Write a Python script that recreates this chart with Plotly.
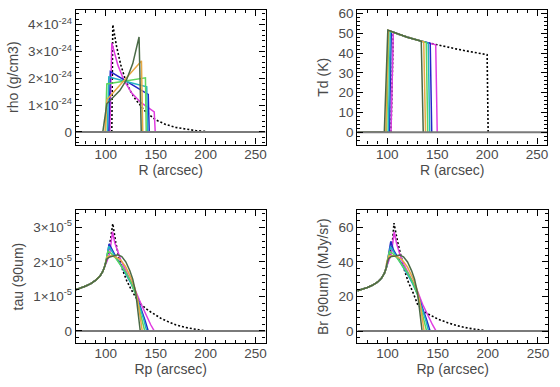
import plotly.graph_objects as go

# ---------------- data ----------------
SERIES = ["dotted", "magenta", "blue", "cyan", "lgreen", "orange", "olive"]
COLORS = {"dotted": "#000000", "magenta": "#e03ce0", "blue": "#2424c8", "cyan": "#22b4c4",
          "lgreen": "#5cd65c", "orange": "#e6a844", "olive": "#4a6a46"}

# Panel 1: rho (units of 1e-24 g/cm3) vs R
RHO_SCALE = 1e-24
RHO_R = {
    "dotted": [106, 107, 110.7, 115, 120, 125, 130, 140, 150, 160, 170, 180, 190, 200, 201],
    "magenta": [70, 104, 106, 112, 118, 126, 135, 146, 148.5, 149.5],
    "blue": [70, 103, 104.5, 120, 140.7, 142.5, 143.5],
    "cyan": [70, 101.5, 103, 120, 141, 142],
    "lgreen": [70, 99.5, 101, 120, 138, 139.7, 140.5],
    "orange": [70, 99.5, 101, 120, 135.7, 137],
    "olive": [70, 97, 101, 114, 120.7, 127, 133.3, 135.5],
}
RHO_V = {
    "dotted": [0, 4.0, 3.2, 2.5, 1.9, 1.5, 1.2, 0.75, 0.45, 0.28, 0.17, 0.1, 0.05, 0.02, 0],
    "magenta": [0, 0, 3.32, 2.5, 1.94, 1.45, 1.1, 0.82, 0.75, 0],
    "blue": [0, 0, 2.25, 1.91, 1.46, 1.4, 0],
    "cyan": [0, 0, 2.05, 1.88, 1.68, 0],
    "lgreen": [0, 0, 1.79, 1.91, 2.02, 2.02, 0],
    "orange": [0, 0, 1.2, 2.0, 2.65, 0],
    "olive": [0, 0, 1.05, 1.54, 1.94, 2.55, 3.54, 0],
}

# Panel 2: Td (K) vs R
TD_R = {
    "dotted": [103.7, 106, 110, 120, 130, 140, 150, 160, 170, 180, 190, 200, 201],
    "magenta": [70, 103.7, 106, 110, 120, 130, 140, 148.5, 150],
    "blue": [70, 102, 104, 110, 120, 130, 143, 144.5],
    "cyan": [70, 101, 103, 110, 120, 130, 141, 142.5],
    "lgreen": [70, 99.3, 101.5, 110, 120, 130, 139, 140.5],
    "orange": [70, 98.5, 101, 110, 120, 130, 136.5, 138.3],
    "olive": [70, 97, 100.5, 110, 120, 130, 134, 136],
}
TD_V = {
    "dotted": [0, 50.5, 49.7, 48.0, 46.6, 45.3, 44.1, 43.0, 42.0, 41.0, 40.0, 39.2, 0],
    "magenta": [0, 0, 50.5, 49.7, 48.0, 46.6, 45.3, 44.2, 0],
    "blue": [0, 0, 50.9, 49.7, 48.0, 46.6, 44.9, 0],
    "cyan": [0, 0, 51.1, 49.7, 48.0, 46.6, 45.1, 0],
    "lgreen": [0, 0, 51.3, 49.7, 48.0, 46.6, 45.3, 0],
    "orange": [0, 0, 51.5, 49.7, 48.0, 46.6, 45.7, 0],
    "olive": [0, 0, 51.6, 49.7, 48.0, 46.6, 46.0, 0],
}

# Panels 3/4: projected radius Rp, common inner part
LEFT_RP = [70, 75, 80, 85, 90, 94, 97, 99]
TAU_SCALE = 1e-5
TAU_LEFT = [1.19, 1.24, 1.30, 1.37, 1.47, 1.58, 1.72, 1.88]
BR_LEFT = [23.3, 24.2, 25.2, 26.5, 28.3, 30.5, 33.5, 37.0]

TAU_RP = {
    "dotted": [102, 105, 107, 110, 113, 117, 121, 125, 130, 135, 140, 145, 150, 155, 160, 170, 180, 190, 200],
    "magenta": [101, 104, 106.7, 109, 112, 115, 120, 125, 130, 135, 140, 145, 148.5],
    "blue": [101, 103.3, 106, 110, 115, 120, 125, 130, 135, 139, 142.5],
    "cyan": [100.5, 103, 106, 110, 115, 120, 125, 130, 134, 138, 141],
    "lgreen": [100, 102, 105, 110, 115, 120, 125, 130, 133, 136, 138.5, 139],
    "orange": [100, 101.5, 105, 110, 115, 120, 125, 129, 132, 134, 135.5, 136.5],
    "olive": [100, 101, 104, 108, 112, 116, 120, 124, 127, 130, 132, 133.5, 134.5],
}
TAU_V = {
    "dotted": [2.2, 2.7, 3.1, 2.55, 2.15, 1.75, 1.45, 1.22, 0.97, 0.78, 0.65, 0.55, 0.45, 0.37, 0.3, 0.18, 0.1, 0.04, 0.0],
    "magenta": [2.0, 2.25, 2.87, 2.55, 2.28, 2.05, 1.75, 1.47, 1.15, 0.8, 0.47, 0.18, 0.0],
    "blue": [2.1, 2.52, 2.35, 2.15, 1.92, 1.67, 1.4, 1.08, 0.68, 0.33, 0.0],
    "cyan": [2.05, 2.45, 2.3, 2.12, 1.9, 1.66, 1.4, 1.06, 0.7, 0.33, 0.0],
    "lgreen": [2.0, 2.3, 2.25, 2.1, 1.9, 1.7, 1.43, 1.05, 0.7, 0.35, 0.05, 0.0],
    "orange": [2.0, 2.15, 2.17, 2.14, 2.05, 1.85, 1.55, 1.25, 0.9, 0.5, 0.15, 0.0],
    "olive": [1.98, 2.08, 2.14, 2.16, 2.2, 2.15, 2.0, 1.75, 1.5, 1.1, 0.6, 0.2, 0.0],
}

BR_RP = {
    "dotted": [102, 105, 106.5, 110, 113, 117, 121, 125, 130, 135, 140, 145, 150, 160, 170, 180, 190, 200],
    "magenta": [101, 104, 106.7, 109, 112, 115, 120, 125, 130, 135, 140, 145, 148.5],
    "blue": [100, 103.3, 106, 110, 115, 120, 125, 130, 135, 139, 142.5],
    "cyan": [100, 103, 106, 110, 115, 120, 125, 130, 134, 138, 141],
    "lgreen": [99.5, 102, 105, 110, 115, 120, 125, 130, 133, 136, 138.5, 139],
    "orange": [99, 101.5, 105, 110, 115, 120, 125, 129, 132, 134, 135.5, 136.5],
    "olive": [99, 101, 104, 108, 112, 116, 120, 124, 127, 130, 132, 133.5, 134.5],
}
BR_V = {
    "dotted": [43, 52, 62.5, 52, 44, 35, 28, 23, 15.5, 12, 10, 8.6, 7.0, 4.8, 3.0, 1.7, 0.7, 0.0],
    "magenta": [40, 45, 57.5, 51, 45, 40, 34.5, 29, 23, 15.5, 9, 3.5, 0],
    "blue": [40, 52, 47, 43, 38, 33, 28, 21.5, 13.5, 6.5, 0],
    "cyan": [40, 49, 46, 42, 37.5, 33, 27.5, 21, 14, 6.5, 0],
    "lgreen": [40, 46, 45, 42, 38, 34, 28.5, 21, 14, 7, 1, 0],
    "orange": [39, 43.5, 43.6, 43, 41, 37, 31, 25, 18, 10, 3, 0],
    "olive": [38, 42, 43.2, 43.5, 44, 43, 40, 35, 30, 22, 12, 4, 0],
}

ZERO_X = [70, 260]
ZERO_Y = [0, 0]

X_TICKS = [100, 150, 200, 250]
RHO_TICKS = [0, 1, 2, 3, 4]
RHO_TICKTEXT = ["0"] + [f"{v}×10<sup>-24</sup>" for v in RHO_TICKS[1:]]
TD_TICKS = [0, 10, 20, 30, 40, 50, 60]
TAU_TICKS = [0, 1, 2, 3]
TAU_TICKTEXT = ["0"] + [f"{v}×10<sup>-5</sup>" for v in TAU_TICKS[1:]]
BR_TICKS = [0, 20, 40, 60]

# ---------------- figure ----------------
fig = go.Figure()
W, H = 560, 387
TEXT = "#4a4a4a"


def line_style(name):
    if name == "dotted":
        return dict(color="#000000", width=1.6, dash="2px,2px")
    return dict(color=COLORS[name], width=1.5)


def add(xs, ys, name, ax):
    fig.add_trace(go.Scatter(x=xs, y=ys, mode="lines", line=line_style(name),
                             xaxis="x" + ax, yaxis="y" + ax, showlegend=False, hoverinfo="skip"))


def add_zero(ax):
    fig.add_trace(go.Scatter(x=ZERO_X, y=ZERO_Y, mode="lines", line=dict(color="#7a7a7a", width=2),
                             xaxis="x" + ax, yaxis="y" + ax, showlegend=False, hoverinfo="skip"))


for s in SERIES:
    add(RHO_R[s], RHO_V[s], s, "")
add_zero("")
for s in SERIES:
    add(TD_R[s], TD_V[s], s, "2")
add_zero("2")
for s in SERIES:
    add(LEFT_RP + TAU_RP[s], TAU_LEFT + TAU_V[s], s, "3")
add_zero("3")
for s in SERIES:
    add(LEFT_RP + BR_RP[s], BR_LEFT + BR_V[s], s, "4")
add_zero("4")


# pixel-based domains
def xd(a, b):
    return [a / W, b / W]


def yd(top, bottom):
    return [1 - bottom / H, 1 - top / H]


font = dict(family="Liberation Sans, Arial, sans-serif", size=14, color=TEXT)
tfont = dict(family="Liberation Sans, Arial, sans-serif", size=13.5, color=TEXT)


def xaxis(dom, anchor, title):
    return dict(domain=dom, anchor=anchor, range=[70, 260], tickmode="array", tickvals=X_TICKS,
                ticks="inside", ticklen=6, tickcolor="#000", mirror="allticks", showline=True,
                linecolor="#000", linewidth=1.2, showgrid=False, zeroline=False,
                ticklabelstandoff=-3,
                minor=dict(dtick=10, tick0=70, ticks="inside", ticklen=3, tickcolor="#000", showgrid=False),
                title=dict(text=title, font=font, standoff=2), tickfont=tfont)


def yaxis(dom, anchor, title, rng, tv, tt=None, mdt=1):
    d = dict(domain=dom, anchor=anchor, range=rng, tickmode="array", tickvals=tv,
             ticks="inside", ticklen=6, tickcolor="#000", mirror="allticks", showline=True,
             linecolor="#000", linewidth=1.2, showgrid=False, zeroline=False,
             minor=dict(dtick=mdt, tick0=0, ticks="inside", ticklen=3, tickcolor="#000", showgrid=False),
             title=dict(text=title, font=font, standoff=6), tickfont=tfont)
    if tt is not None:
        d["ticktext"] = tt
    return d


fig.update_layout(
    width=W, height=H, margin=dict(l=0, r=0, t=0, b=0),
    paper_bgcolor="white", plot_bgcolor="white", font=font,
    xaxis=xaxis(xd(76, 266), "y", "R (arcsec)"),
    yaxis=yaxis(yd(6, 142), "x", "rho (g/cm3)", [-0.47, 4.55], RHO_TICKS, RHO_TICKTEXT, 0.2),
    xaxis2=xaxis(xd(358, 548), "y2", "R (arcsec)"),
    yaxis2=yaxis(yd(6, 142), "x2", "Td (K)", [-6.2, 61.8], TD_TICKS, None, 2),
    xaxis3=xaxis(xd(76, 266), "y3", "Rp (arcsec)"),
    yaxis3=yaxis(yd(208, 343), "x3", "tau (90um)", [-0.36, 3.5], TAU_TICKS, TAU_TICKTEXT, 0.2),
    xaxis4=xaxis(xd(358, 549), "y4", "Rp (arcsec)"),
    yaxis4=yaxis(yd(208, 343), "x4", "Br (90um) (MJy/sr)", [-7.2, 70.2], BR_TICKS, None, 4),
)

fig.write_html("out.html", config={"displayModeBar": False},
               post_script="document.body.style.margin='0';")
